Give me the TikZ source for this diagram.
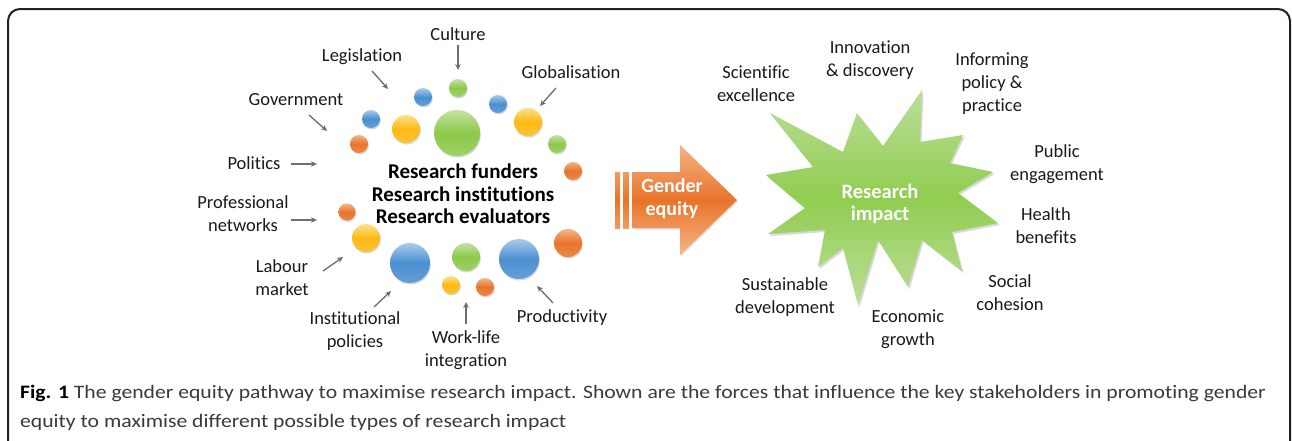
\documentclass[tikz,border=0pt]{standalone}
\usepackage{fontspec}
\setmainfont{Carlito}[Ligatures={NoCommon}]
\newfontfamily\capfont{Carlito}[FakeStretch=1.14,Ligatures={NoCommon}]
\usetikzlibrary{shadows,arrows.meta}
\definecolor{gM}{HTML}{8CC94A}
\definecolor{gL}{HTML}{C4E2A4}
\definecolor{bM}{HTML}{4A8FD0}
\definecolor{bL}{HTML}{A9CCEC}
\definecolor{yM}{HTML}{FDB913}
\definecolor{yL}{HTML}{FFE18A}
\definecolor{oM}{HTML}{E8742A}
\definecolor{oL}{HTML}{F5B487}
\definecolor{sM}{HTML}{90CD50}
\definecolor{sL}{HTML}{BCDE9A}
\definecolor{txt}{HTML}{1A1A1A}
\definecolor{arr}{HTML}{6E6E6E}
\definecolor{frame}{HTML}{222222}
\definecolor{cap}{HTML}{3A3A3A}
\begin{document}
\begin{tikzpicture}[x=1pt,y=-1pt,
  ball/.style={circle, inner sep=0pt, draw=none,
    drop shadow={shadow xshift=0.8pt,shadow yshift=-1.5pt,opacity=0.3}},
  gball/.style={ball, top color=gL, bottom color=gM!85!white, middle color=gM},
  bball/.style={ball, top color=bL, bottom color=bM!85!white, middle color=bM},
  yball/.style={ball, top color=yL, bottom color=yM!85!white, middle color=yM},
  oball/.style={ball, top color=oL, bottom color=oM!85!white, middle color=oM},
  lab/.style={font=\fontsize{18.5}{23}\selectfont, align=center, text=txt, inner sep=0pt},
  force/.style={draw=arr, line width=1.3pt, -{Stealth[length=6pt,width=5.5pt]}},
]
\useasboundingbox (0,0) rectangle (1292,440);
\fill[white] (0,0) rectangle (1292,440);
% frame
\draw[line width=2pt, draw=frame, rounded corners=12pt] (8,460) -- (8,9) -- (1290,9) -- (1290,460);

% ---- balls ----
\node[gball, minimum size=18pt] (c1) at (458,88) {};
\node[bball, minimum size=18pt] (c2) at (423,97) {};
\node[bball, minimum size=18pt] (c3) at (498,104) {};
\node[bball, minimum size=18pt] (c4) at (371,119) {};
\node[yball, minimum size=28pt] (c5) at (406,129) {};
\node[gball, minimum size=46pt] (c6) at (457,133) {};
\node[yball, minimum size=28pt] (c7) at (528,122) {};
\node[oball, minimum size=18pt] (c8) at (359,144) {};
\node[gball, minimum size=18pt] (c9) at (557,144) {};
\node[oball, minimum size=18pt] (c10) at (573,171) {};
\node[oball, minimum size=17pt] (c11) at (347,212) {};
\node[yball, minimum size=28pt] (c12) at (366,238) {};
\node[bball, minimum size=40pt] (c13) at (410,263) {};
\node[gball, minimum size=28pt] (c14) at (466,257) {};
\node[bball, minimum size=40pt] (c15) at (519,259) {};
\node[oball, minimum size=28pt] (c16) at (568,243) {};
\node[yball, minimum size=18pt] (c17) at (451,285) {};
\node[oball, minimum size=18pt] (c18) at (485,287) {};

% ---- centre text ----
\node[font=\bfseries\fontsize{21}{22.5}\selectfont, align=center, text=black, inner sep=0pt]
  (stake) at (463,194) {Research funders\\Research institutions\\Research evaluators};

% ---- force labels ----
\node[lab] (culture) at (458,34) {Culture};
\node[lab] (legis) at (362,57) {Legislation};
\node[lab] (gov) at (296,100) {Government};
\node[lab] (glob) at (571,72) {Globalisation};
\node[lab] (pol) at (254,163) {Politics};
\node[lab] (prof) at (243,214) {Professional\\networks};
\node[lab] (labour) at (282,278) {Labour\\market};
\node[lab] (inst) at (355,331) {Institutional\\policies};
\node[lab] (work) at (466,350) {Work-life\\integration};
\node[lab] (prod) at (562,318) {Productivity};

% ---- force arrows ----
\coordinate (a1s) at (458,45);  \coordinate (a1e) at (458,70);
\coordinate (a2s) at (372,71);  \coordinate (a2e) at (388,89);
\coordinate (a3s) at (309,115); \coordinate (a3e) at (327,131);
\coordinate (a4s) at (556,88);  \coordinate (a4e) at (540,106);
\coordinate (a5s) at (291,164); \coordinate (a5e) at (317,164);
\coordinate (a6s) at (291,220); \coordinate (a6e) at (317,220);
\coordinate (a7s) at (323,271); \coordinate (a7e) at (343,257);
\coordinate (a8s) at (374,307); \coordinate (a8e) at (391,291);
\coordinate (a9s) at (466,324); \coordinate (a9e) at (466,302);
\coordinate (a10s) at (553,303); \coordinate (a10e) at (537,286);
\foreach \i in {1,...,10} {\draw[force] (a\i s) -- (a\i e);}

% ---- gender equity arrow ----
\shade[top color=oL, bottom color=oL, middle color=oM,
  drop shadow={shadow xshift=1pt,shadow yshift=-1.5pt,opacity=0.25}]
  (632,172) -- (680,172) -- (680,145) -- (737,200) -- (680,255) -- (680,228) -- (632,228) -- cycle;
\shade[top color=oL!60!oM, bottom color=oL!60!oM, middle color=oM] (615,172) rectangle (620,228);
\shade[top color=oL!60!oM, bottom color=oL!60!oM, middle color=oM] (623,172) rectangle (629,228);
\node[font=\bfseries\fontsize{20}{23}\selectfont, align=center, text=white, inner sep=0pt]
  (gender) at (672,199) {Gender\\equity};

% ---- research impact star ----
\shade[top color=sL, bottom color=sL, middle color=sM,
  drop shadow={shadow xshift=1.5pt,shadow yshift=-2pt,opacity=0.3}]
  (770,113) -- (843,152) -- (857,113) -- (883,146) -- (922,90) -- (920,142)
  -- (963,135) -- (950,163) -- (993,172) -- (958,193) -- (998,223) -- (952,232)
  -- (962,271) -- (922,240) -- (908,287) -- (878,240) -- (858,305) -- (843,248)
  -- (818,267) -- (825,230) -- (768,234) -- (805,208) -- (766,175) -- (813,167) -- cycle;
\node[font=\bfseries\fontsize{20.5}{22.5}\selectfont, align=center, text=white, inner sep=0pt]
  (impact) at (880,204) {Research\\impact};

% ---- impact labels ----
\node[lab] (sci) at (756,84) {Scientific\\excellence};
\node[lab] (innov) at (870,60) {Innovation\\\& discovery};
\node[lab] (inform) at (992,84) {Informing\\policy \&\\practice};
\node[lab] (public) at (1057,164) {Public\\engagement};
\node[lab] (health) at (1046,226) {Health\\benefits};
\node[lab] (social) at (1010,293) {Social\\cohesion};
\node[lab] (econ) at (908,329) {Economic\\growth};
\node[lab] (sust) at (785,297) {Sustainable\\development};

% ---- caption ----
\node[anchor=base west, inner sep=0pt, font=\capfont\fontsize{19}{29}\selectfont, text=cap, align=left]
  (caption) at (20,427) {{\color{black}\bfseries Fig. 1} The gender equity pathway to maximise research impact. Shown are the forces that influence the key stakeholders in promoting gender\\equity to maximise different possible types of research impact};
\end{tikzpicture}
\end{document}
